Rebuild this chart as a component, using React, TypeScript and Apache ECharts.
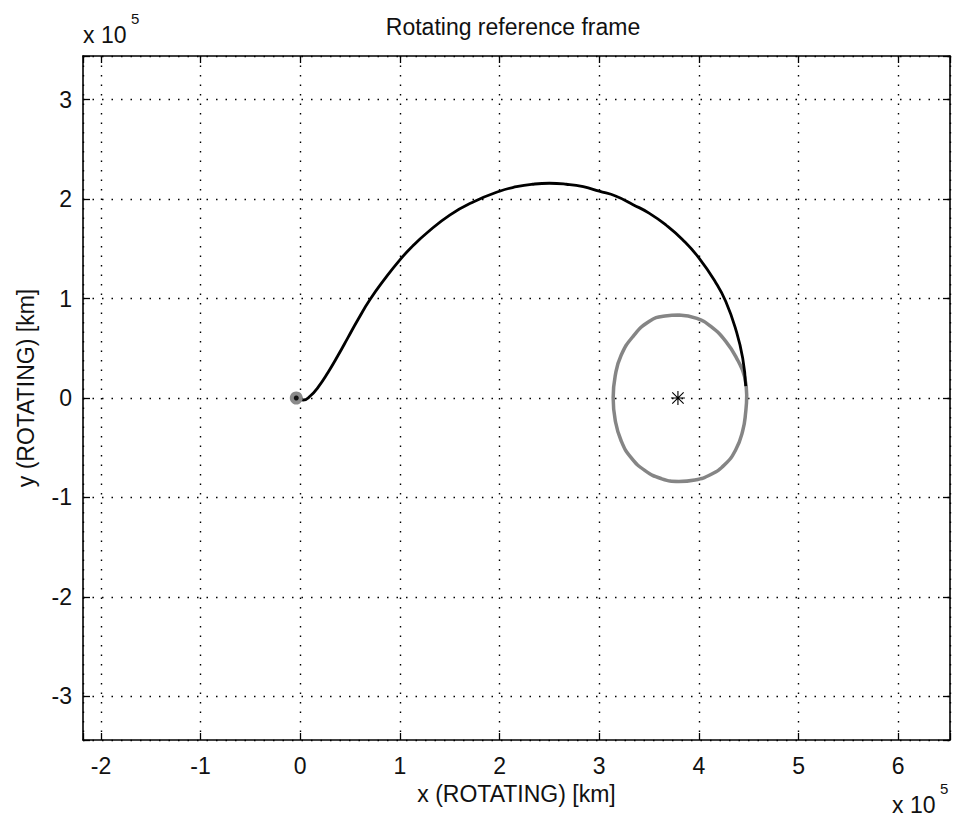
import React, { useEffect, useRef } from "react";
import * as echarts from "echarts";

// Values in units of 10^5 km (rotating frame)
const trajectoryX = [-0.04, 0.03, 0.10, 0.18, 0.28, 0.38, 0.48, 0.58, 0.70, 0.85, 1.0, 1.12, 1.27, 1.50, 1.73, 2.0, 2.17, 2.33, 2.50, 2.67, 2.84, 3.0, 3.17, 3.34, 3.50, 3.67, 3.84, 4.0, 4.17, 4.27, 4.37, 4.44, 4.47];
const trajectoryY = [-0.01, -0.02, 0.02, 0.11, 0.26, 0.43, 0.61, 0.79, 0.99, 1.20, 1.39, 1.52, 1.66, 1.84, 1.97, 2.08, 2.125, 2.15, 2.16, 2.15, 2.125, 2.08, 2.03, 1.945, 1.86, 1.74, 1.59, 1.41, 1.16, 0.97, 0.69, 0.40, 0.12];

const orbitX = [3.80, 3.98, 4.12, 4.27, 4.39, 4.46, 4.48, 4.47, 4.44, 4.37, 4.26, 4.12, 3.96, 3.80, 3.62, 3.46, 3.32, 3.22, 3.16, 3.14, 3.16, 3.22, 3.34, 3.50, 3.66, 3.80];
const orbitY = [0.835, 0.80, 0.72, 0.57, 0.38, 0.21, 0.03, -0.14, -0.33, -0.52, -0.67, -0.77, -0.825, -0.84, -0.81, -0.73, -0.60, -0.43, -0.22, 0.0, 0.22, 0.43, 0.62, 0.77, 0.825, 0.835];

const earthPos = [-0.04, 0];
const moonPos = [3.79, 0];

const xRange = [-2.18, 6.52];
const yRange = [-3.44, 3.44];

const titleText = "Rotating reference frame";
const xName = "x (ROTATING) [km]";
const yName = "y (ROTATING) [km]";
const multiplierText = "x 10";
const multiplierExp = "5";

const FONT = "'Liberation Sans', Arial, Helvetica, sans-serif";
const STAR =
  "path://M9.2 0h1.6v20h-1.6z M0 9.2h20v1.6h-20z M2.4 1.3L18.7 17.6L17.6 18.7L1.3 2.4Z M17.6 1.3L18.7 2.4L2.4 18.7L1.3 17.6Z";

const intLabel = (v: number) =>
  Math.abs(v - Math.round(v)) < 1e-6 ? String(Math.round(v)) : "";

export default function App() {
  const ref = useRef<HTMLDivElement>(null);

  useEffect(() => {
    if (!ref.current) return;
    const chart = echarts.init(ref.current, undefined, { renderer: "svg" });

    const axisLine = { show: true, onZero: false, lineStyle: { color: "#000", width: 1.6 } };
    const axisTick = { show: true, inside: true, length: 7, lineStyle: { color: "#000", width: 1.3 } };
    const splitLine = { show: true, lineStyle: { type: [1.5, 8], color: "#000", width: 1.4 } };
    const labelStyle = { fontSize: 23, color: "#111", fontFamily: FONT };
    const nameStyle = { fontSize: 23, color: "#111", fontFamily: FONT };

    const traj = trajectoryX.map((x, i) => [x, trajectoryY[i]]);
    const orbit = orbitX.map((x, i) => [x, orbitY[i]]);

    chart.setOption({
      animation: false,
      backgroundColor: "#fff",
      grid: { left: 83, right: 2, top: 56, bottom: 81, containLabel: false },
      xAxis: [
        {
          type: "value",
          position: "bottom",
          min: xRange[0],
          max: xRange[1],
          splitNumber: 9,
          axisLine,
          axisTick,
          splitLine,
          axisLabel: { ...labelStyle, margin: 14, formatter: intLabel },
          name: xName,
          nameLocation: "middle",
          nameGap: 42,
          nameTextStyle: nameStyle,
        },
        {
          type: "value",
          position: "top",
          min: xRange[0],
          max: xRange[1],
          splitNumber: 9,
          axisLine,
          axisTick,
          splitLine: { show: false },
          axisLabel: { show: false },
        },
      ],
      yAxis: [
        {
          type: "value",
          position: "left",
          min: yRange[0],
          max: yRange[1],
          splitNumber: 7,
          axisLine,
          axisTick,
          splitLine,
          axisLabel: { ...labelStyle, margin: 11, formatter: intLabel },
          name: yName,
          nameLocation: "middle",
          nameGap: 46,
          nameTextStyle: { ...nameStyle, padding: [0, 0, 0, 20] },
        },
        {
          type: "value",
          position: "right",
          min: yRange[0],
          max: yRange[1],
          splitNumber: 7,
          axisLine,
          axisTick,
          splitLine: { show: false },
          axisLabel: { show: false },
        },
      ],
      series: [
        {
          type: "line",
          data: orbit,
          xAxisIndex: 0,
          yAxisIndex: 0,
          smooth: 0.5,
          showSymbol: false,
          symbol: "none",
          lineStyle: { color: "#858585", width: 3.5 },
          z: 2,
        },
        {
          type: "line",
          data: traj,
          xAxisIndex: 0,
          yAxisIndex: 0,
          smooth: 0.5,
          showSymbol: false,
          symbol: "none",
          lineStyle: { color: "#000", width: 2.8 },
          z: 3,
        },
        {
          type: "scatter",
          data: [earthPos],
          symbol: "circle",
          symbolSize: 13,
          itemStyle: { color: "#8a8a8a", opacity: 1 },
          z: 4,
        },
        {
          type: "scatter",
          data: [earthPos],
          symbol: "circle",
          symbolSize: 5,
          itemStyle: { color: "#111", opacity: 1 },
          z: 5,
        },
        {
          type: "scatter",
          data: [moonPos],
          symbol: STAR,
          symbolSize: 14,
          itemStyle: { color: "#000", opacity: 1 },
          z: 5,
        },
      ],
      graphic: [
        {
          type: "text",
          x: 513,
          y: 27,
          style: { text: titleText, font: `23px ${FONT}`, fill: "#111", textAlign: "center", textVerticalAlign: "middle" },
        },
        {
          type: "text",
          x: 83,
          y: 35,
          style: { text: multiplierText, font: `23px ${FONT}`, fill: "#111", textAlign: "left", textVerticalAlign: "middle" },
        },
        {
          type: "text",
          x: 131,
          y: 18,
          style: { text: multiplierExp, font: `15px ${FONT}`, fill: "#111", textAlign: "left", textVerticalAlign: "middle" },
        },
        {
          type: "text",
          x: 892,
          y: 805,
          style: { text: multiplierText, font: `23px ${FONT}`, fill: "#111", textAlign: "left", textVerticalAlign: "middle" },
        },
        {
          type: "text",
          x: 940,
          y: 788,
          style: { text: multiplierExp, font: `15px ${FONT}`, fill: "#111", textAlign: "left", textVerticalAlign: "middle" },
        },
      ],
    });

    return () => chart.dispose();
  }, []);

  return (
    <div
      ref={ref}
      style={{ position: "fixed", left: 0, top: 0, width: 953, height: 821, background: "#fff" }}
    />
  );
}
